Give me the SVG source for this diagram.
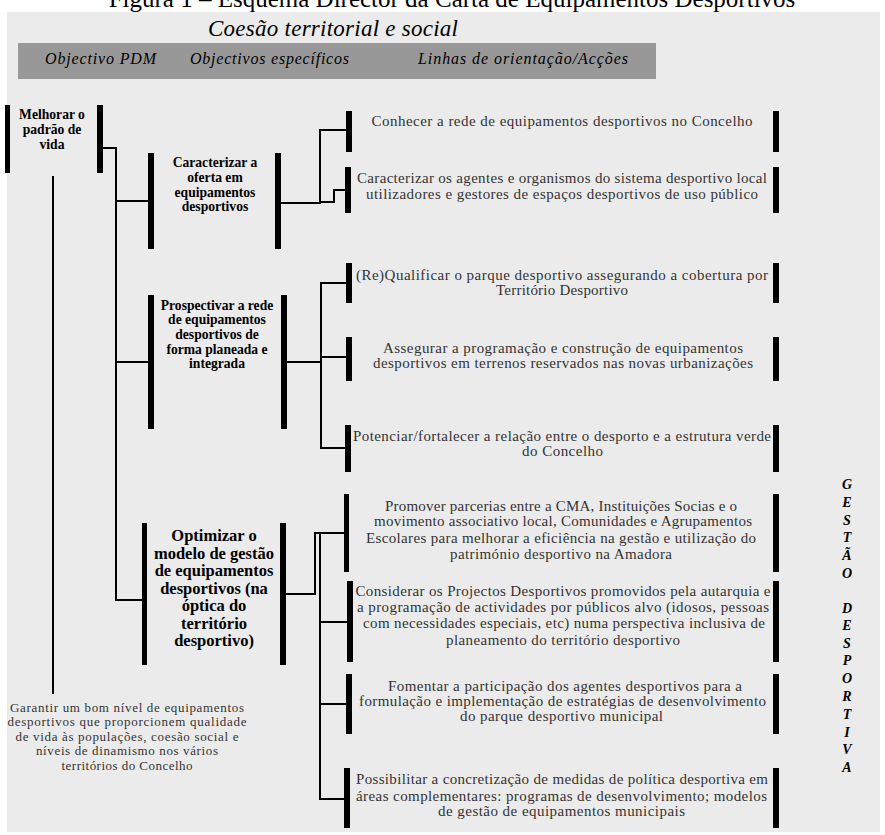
<svg xmlns="http://www.w3.org/2000/svg" width="885" height="835" viewBox="0 0 885 835">
<style>
.bar{fill:#000}
.conn{stroke:#000;stroke-width:2;fill:none}
.leaf{font-family:'Liberation Serif','Times New Roman',serif;font-size:15px;fill:#333;text-anchor:middle}
.nd{font-family:'Liberation Serif','Times New Roman',serif;font-weight:bold;font-size:13.6px;fill:#000;text-anchor:middle}
.big{font-family:'Liberation Serif','Times New Roman',serif;font-weight:bold;font-size:16.5px;fill:#000;text-anchor:middle}
.hd{font-family:'Liberation Serif','Times New Roman',serif;font-style:italic;font-size:16px;fill:#000}
.gar{font-family:'Liberation Serif','Times New Roman',serif;font-size:13px;fill:#333;text-anchor:middle}
.vt{font-family:'Liberation Serif','Times New Roman',serif;font-weight:bold;font-style:italic;font-size:14px;fill:#000;text-anchor:middle}
.ttl{font-family:'Liberation Serif','Times New Roman',serif;fill:#000}
</style>
<rect x="0" y="0" width="885" height="835" fill="#fff"/>
<rect x="7" y="12" width="873" height="820" fill="#ebebeb"/>
<text class="ttl" x="452" y="7" font-size="25" text-anchor="middle">Figura 1 – Esquema Director da Carta de Equipamentos Desportivos</text>
<text class="ttl" x="208" y="36" font-style="italic" font-size="23" textLength="250">Coesão territorial e social</text>
<rect x="18" y="43" width="638" height="36" fill="#989898"/>
<text class="hd" x="45" y="64" textLength="111">Objectivo PDM</text>
<text class="hd" x="190" y="64" textLength="159">Objectivos específicos</text>
<text class="hd" x="418" y="64" textLength="210">Linhas de orientação/Acções</text>

<g id="connectors">
<path class="conn" d="M103,148 H116 V600 H142"/>
<path class="conn" d="M116,201 H148"/>
<path class="conn" d="M116,362 H148"/>
<path class="conn" d="M53,176 V694"/>
<path class="conn" d="M281,203 H320 V130 H346"/>
<path class="conn" d="M320,202 H334 V190 H345"/>
<path class="conn" d="M287,362 H321"/>
<path class="conn" d="M346,283 H321 V448 H345"/>
<path class="conn" d="M321,357 H346"/>
<path class="conn" d="M286,594 H315 V533 H344"/>
<path class="conn" d="M320,533 V799 H344"/>
<path class="conn" d="M320,622 H347"/>
<path class="conn" d="M320,704 H346"/>
</g>

<g id="n-melhorar">
<rect class="bar" x="5" y="105" width="5" height="68"/>
<rect class="bar" x="97" y="105" width="6" height="68"/>
<text class="nd"><tspan x="52" y="119">Melhorar o</tspan><tspan x="52" y="134">padrão de</tspan><tspan x="52" y="149">vida</tspan></text>
</g>
<g id="n-garantir">
<text class="gar"><tspan x="127" y="712" textLength="234">Garantir um bom nível de equipamentos</tspan><tspan x="127" y="726" textLength="239">desportivos que proporcionem qualidade</tspan><tspan x="127" y="741" textLength="223">de vida às populações, coesão social e</tspan><tspan x="127" y="755" textLength="182">níveis de dinamismo nos vários</tspan><tspan x="127" y="770" textLength="131">territórios do Concelho</tspan></text>
</g>

<g id="n-caracterizar">
<rect class="bar" x="148" y="153" width="6" height="96"/>
<rect class="bar" x="275" y="153" width="6" height="96"/>
<text class="nd"><tspan x="215" y="167">Caracterizar a</tspan><tspan x="215" y="182">oferta em</tspan><tspan x="215" y="197">equipamentos</tspan><tspan x="215" y="211">desportivos</tspan></text>
</g>
<g id="n-prospectivar">
<rect class="bar" x="148" y="295" width="6" height="134"/>
<rect class="bar" x="281" y="295" width="6" height="134"/>
<text class="nd"><tspan x="217" y="310">Prospectivar a rede</tspan><tspan x="217" y="324">de equipamentos</tspan><tspan x="217" y="339">desportivos de</tspan><tspan x="217" y="354">forma planeada e</tspan><tspan x="217" y="368">integrada</tspan></text>
</g>
<g id="n-optimizar">
<rect class="bar" x="142" y="523" width="5" height="142"/>
<rect class="bar" x="280" y="523" width="6" height="142"/>
<text class="big"><tspan x="214" y="541">Optimizar o</tspan><tspan x="214" y="558.5">modelo de gestão</tspan><tspan x="214" y="576">de equipamentos</tspan><tspan x="214" y="593.5">desportivos (na</tspan><tspan x="214" y="611">óptica do</tspan><tspan x="214" y="628.5">território</tspan><tspan x="214" y="646">desportivo)</tspan></text>
</g>

<g id="l1">
<rect class="bar" x="346" y="111" width="6" height="41"/>
<rect class="bar" x="773" y="111" width="6" height="41"/>
<text class="leaf"><tspan x="562" y="126" textLength="381">Conhecer a rede de equipamentos desportivos no Concelho</tspan></text>
</g>
<g id="l2">
<rect class="bar" x="345" y="167" width="6" height="46"/>
<rect class="bar" x="773" y="167" width="6" height="46"/>
<text class="leaf"><tspan x="562" y="182.5" textLength="410">Caracterizar os agentes e organismos do sistema desportivo local</tspan><tspan x="562" y="199" textLength="392">utilizadores e gestores de espaços desportivos de uso público</tspan></text>
</g>
<g id="l3">
<rect class="bar" x="346" y="263" width="6" height="40"/>
<rect class="bar" x="773" y="263" width="6" height="40"/>
<text class="leaf"><tspan x="562" y="279.5" textLength="412">(Re)Qualificar  o parque desportivo assegurando a cobertura por</tspan><tspan x="562" y="295" textLength="132">Território Desportivo</tspan></text>
</g>
<g id="l4">
<rect class="bar" x="346" y="337" width="6" height="44"/>
<rect class="bar" x="773" y="337" width="6" height="44"/>
<text class="leaf"><tspan x="563" y="353" textLength="360">Assegurar a programação e construção de equipamentos</tspan><tspan x="563" y="368" textLength="380">desportivos em terrenos reservados nas novas urbanizações</tspan></text>
</g>
<g id="l5">
<rect class="bar" x="345" y="425" width="6" height="47"/>
<rect class="bar" x="773" y="425" width="6" height="47"/>
<text class="leaf"><tspan x="562" y="441" textLength="418">Potenciar/fortalecer a relação entre o desporto e a estrutura verde</tspan><tspan x="562.5" y="456" textLength="81">do Concelho</tspan></text>
</g>
<g id="l6">
<rect class="bar" x="344" y="494" width="5" height="78"/>
<rect class="bar" x="773" y="494" width="6" height="78"/>
<text class="leaf"><tspan x="561" y="510.5" textLength="352">Promover parcerias entre a CMA, Instituições Socias e o</tspan><tspan x="563" y="526" textLength="378">movimento associativo local, Comunidades e Agrupamentos</tspan><tspan x="561" y="543" textLength="390">Escolares para melhorar a eficiência na gestão e utilização do</tspan><tspan x="561" y="558.5" textLength="222">património desportivo na Amadora</tspan></text>
</g>
<g id="l7">
<rect class="bar" x="347" y="581" width="6" height="81"/>
<rect class="bar" x="773" y="581" width="6" height="81"/>
<text class="leaf"><tspan x="563" y="596" textLength="415">Considerar os Projectos Desportivos promovidos pela autarquia e</tspan><tspan x="563" y="612" textLength="412">a programação de actividades por públicos alvo (idosos, pessoas</tspan><tspan x="564" y="628" textLength="402">com necessidades especiais, etc) numa perspectiva inclusiva de</tspan><tspan x="563" y="644.5" textLength="234">planeamento do território desportivo</tspan></text>
</g>
<g id="l8">
<rect class="bar" x="346" y="674" width="6" height="60"/>
<rect class="bar" x="773" y="674" width="6" height="60"/>
<text class="leaf"><tspan x="565" y="690.5" textLength="354">Fomentar a participação dos agentes desportivos para a</tspan><tspan x="562.5" y="706" textLength="407">formulação e implementação de estratégias de desenvolvimento</tspan><tspan x="561.5" y="721" textLength="203">do parque desportivo municipal</tspan></text>
</g>
<g id="l9">
<rect class="bar" x="344" y="768" width="6" height="60"/>
<rect class="bar" x="773" y="768" width="6" height="60"/>
<text class="leaf"><tspan x="562" y="784" textLength="412">Possibilitar a concretização de medidas de política desportiva em</tspan><tspan x="561.5" y="800.5" textLength="411">áreas complementares: programas de desenvolvimento; modelos</tspan><tspan x="561.5" y="816" textLength="247">de gestão de equipamentos municipais</tspan></text>
</g>

<g id="n-gestao">
<text class="vt"><tspan x="847" y="489">G</tspan><tspan x="847" y="507">E</tspan><tspan x="847" y="525">S</tspan><tspan x="847" y="542">T</tspan><tspan x="847" y="560">Ã</tspan><tspan x="847" y="578">O</tspan><tspan x="847" y="613">D</tspan><tspan x="847" y="630">E</tspan><tspan x="847" y="648">S</tspan><tspan x="847" y="665">P</tspan><tspan x="847" y="683">O</tspan><tspan x="847" y="701">R</tspan><tspan x="847" y="719">T</tspan><tspan x="847" y="737">I</tspan><tspan x="847" y="754">V</tspan><tspan x="847" y="772">A</tspan></text>
</g>
</svg>
